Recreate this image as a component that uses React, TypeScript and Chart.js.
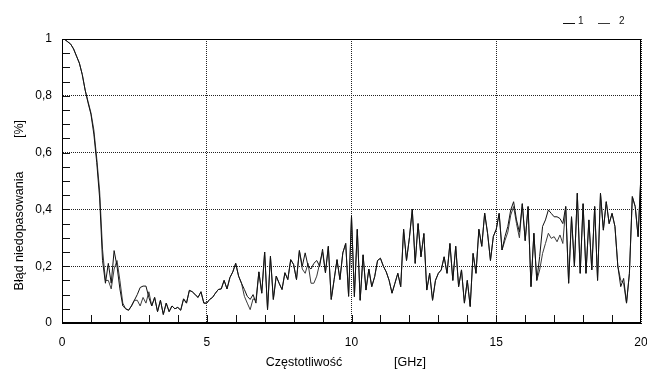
import React, { useEffect, useRef } from 'react';
import { Chart, registerables } from 'chart.js';

Chart.register(...registerables);

// Frequency grid [GHz]
const freqs = [
  0, 0.1, 0.2, 0.3, 0.4, 0.5, 0.6, 0.7, 0.8, 0.9,
  1, 1.1, 1.2, 1.3, 1.4, 1.5, 1.6, 1.7, 1.8, 1.9,
  2, 2.1, 2.2, 2.3, 2.4, 2.5, 2.6, 2.7, 2.8, 2.9,
  3, 3.1, 3.2, 3.3, 3.4, 3.5, 3.6, 3.7, 3.8, 3.9,
  4, 4.1, 4.2, 4.3, 4.4, 4.5, 4.6, 4.7, 4.8, 4.9,
  5, 5.1, 5.2, 5.3, 5.4, 5.5, 5.6, 5.7, 5.8, 5.9,
  6, 6.1, 6.2, 6.3, 6.4, 6.5, 6.6, 6.7, 6.8, 6.9,
  7, 7.1, 7.2, 7.3, 7.4, 7.5, 7.6, 7.7, 7.8, 7.9,
  8, 8.1, 8.2, 8.3, 8.4, 8.5, 8.6, 8.7, 8.8, 8.9,
  9, 9.1, 9.2, 9.3, 9.4, 9.5, 9.6, 9.7, 9.8, 9.9,
  10, 10.1, 10.2, 10.3, 10.4, 10.5, 10.6, 10.7, 10.8, 10.9,
  11, 11.1, 11.2, 11.3, 11.4, 11.5, 11.6, 11.7, 11.8, 11.9,
  12, 12.1, 12.2, 12.3, 12.4, 12.5, 12.6, 12.7, 12.8, 12.9,
  13, 13.1, 13.2, 13.3, 13.4, 13.5, 13.6, 13.7, 13.8, 13.9,
  14, 14.1, 14.2, 14.3, 14.4, 14.5, 14.6, 14.7, 14.8, 14.9,
  15, 15.1, 15.2, 15.3, 15.4, 15.5, 15.6, 15.7, 15.8, 15.9,
  16, 16.1, 16.2, 16.3, 16.4, 16.5, 16.6, 16.7, 16.8, 16.9,
  17, 17.1, 17.2, 17.3, 17.4, 17.5, 17.6, 17.7, 17.8, 17.9,
  18, 18.1, 18.2, 18.3, 18.4, 18.5, 18.6, 18.7, 18.8, 18.9,
  19, 19.1, 19.2, 19.3, 19.4, 19.5, 19.6, 19.7, 19.8, 19.9,
  20,
];

// Series 1
const series1 = [
  1.0, 0.998, 0.99, 0.982, 0.965, 0.94, 0.915, 0.875, 0.82, 0.775,
  0.735, 0.665, 0.565, 0.44, 0.22, 0.14, 0.21, 0.14, 0.255, 0.2,
  0.12, 0.06, 0.05, 0.045, 0.06, 0.08, 0.1, 0.125, 0.13, 0.13,
  0.09, 0.06, 0.09, 0.04, 0.08, 0.03, 0.07, 0.04, 0.06, 0.05,
  0.055, 0.045, 0.085, 0.07, 0.115, 0.11, 0.1, 0.09, 0.11, 0.07,
  0.07, 0.083, 0.09, 0.105, 0.118, 0.12, 0.15, 0.12, 0.16, 0.18,
  0.21, 0.165, 0.14, 0.118, 0.094, 0.083, 0.1, 0.07, 0.18, 0.105,
  0.25, 0.047, 0.235, 0.083, 0.165, 0.14, 0.118, 0.177, 0.153, 0.223,
  0.206, 0.153, 0.255, 0.2, 0.247, 0.2, 0.19, 0.21, 0.22, 0.2,
  0.26, 0.177, 0.27, 0.083, 0.153, 0.223, 0.153, 0.247, 0.28, 0.094,
  0.376, 0.093, 0.33, 0.08, 0.24, 0.116, 0.19, 0.128, 0.163, 0.22,
  0.228, 0.2, 0.18, 0.15, 0.105, 0.14, 0.175, 0.128, 0.33, 0.22,
  0.3, 0.4, 0.21, 0.35, 0.233, 0.315, 0.116, 0.175, 0.08, 0.15,
  0.175, 0.187, 0.233, 0.175, 0.28, 0.15, 0.27, 0.128, 0.187, 0.07,
  0.15, 0.058, 0.245, 0.175, 0.33, 0.27, 0.387, 0.316, 0.22, 0.305,
  0.33, 0.386, 0.257, 0.304, 0.34, 0.398, 0.427, 0.363, 0.32, 0.42,
  0.29, 0.41, 0.128, 0.316, 0.15, 0.234, 0.34, 0.363, 0.398, 0.386,
  0.374, 0.374, 0.368, 0.35, 0.41, 0.14, 0.374, 0.2, 0.457, 0.175,
  0.42, 0.175, 0.363, 0.187, 0.41, 0.15, 0.457, 0.327, 0.427, 0.35,
  0.386, 0.34, 0.2, 0.128, 0.157, 0.07, 0.175, 0.445, 0.41, 0.304,
  0.527,
];

// Series 2
const series2 = [
  1.0, 0.998, 0.99, 0.982, 0.965, 0.94, 0.915, 0.875, 0.82, 0.78,
  0.74, 0.68, 0.58, 0.465, 0.26, 0.15, 0.15, 0.12, 0.19, 0.22,
  0.15, 0.07, 0.05, 0.045, 0.06, 0.08, 0.08, 0.06, 0.09, 0.07,
  0.11, 0.06, 0.09, 0.04, 0.08, 0.03, 0.07, 0.04, 0.06, 0.05,
  0.055, 0.045, 0.085, 0.07, 0.115, 0.11, 0.1, 0.09, 0.11, 0.07,
  0.07, 0.083, 0.09, 0.105, 0.118, 0.12, 0.15, 0.12, 0.16, 0.18,
  0.21, 0.165, 0.14, 0.094, 0.07, 0.047, 0.085, 0.08, 0.18, 0.105,
  0.25, 0.047, 0.235, 0.083, 0.165, 0.14, 0.118, 0.177, 0.153, 0.223,
  0.206, 0.153, 0.255, 0.19, 0.175, 0.21, 0.14, 0.14, 0.165, 0.21,
  0.25, 0.177, 0.27, 0.083, 0.153, 0.223, 0.153, 0.247, 0.28, 0.094,
  0.376, 0.093, 0.33, 0.08, 0.24, 0.116, 0.19, 0.128, 0.163, 0.22,
  0.228, 0.2, 0.18, 0.15, 0.105, 0.14, 0.175, 0.128, 0.33, 0.22,
  0.3, 0.4, 0.21, 0.35, 0.233, 0.315, 0.116, 0.175, 0.08, 0.15,
  0.175, 0.187, 0.233, 0.175, 0.28, 0.15, 0.27, 0.128, 0.187, 0.07,
  0.15, 0.058, 0.245, 0.175, 0.33, 0.27, 0.387, 0.316, 0.22, 0.305,
  0.33, 0.386, 0.257, 0.29, 0.32, 0.38, 0.41, 0.35, 0.3, 0.42,
  0.29, 0.41, 0.128, 0.316, 0.15, 0.187, 0.245, 0.28, 0.316, 0.298,
  0.304, 0.286, 0.31, 0.28, 0.41, 0.14, 0.374, 0.2, 0.457, 0.175,
  0.42, 0.175, 0.363, 0.187, 0.41, 0.15, 0.457, 0.327, 0.427, 0.35,
  0.386, 0.34, 0.2, 0.15, 0.14, 0.07, 0.175, 0.445, 0.41, 0.304,
  0.527,
];

const seriesLabels = ['1', '2'];
const seriesColors = ['#111111', '#3a3a3a'];
const yTitleMain = 'Błąd niedopasowania';
const yTitleUnit = '[%]';
const xTitleMain = 'Częstotliwość';
const xTitleUnit = '[GHz]';

const X_MIN = 0, X_MAX = 20, X_MAJOR = 5, X_MINOR = 1;
const Y_MIN = 0, Y_MAX = 1, Y_MAJOR = 0.2, Y_MINOR = 0.05;

const FONT = '"Liberation Sans", Arial, sans-serif';

const decorPlugin = {
  id: 'decor',
  afterDraw(chart: any) {
    const { ctx, chartArea: a, scales } = chart;
    const xs = scales.x, ys = scales.y;
    ctx.save();
    ctx.strokeStyle = '#111';
    ctx.lineWidth = 1;
    ctx.setLineDash([]);
    ctx.beginPath();
    const nY = Math.round((Y_MAX - Y_MIN) / Y_MINOR);
    for (let i = 1; i < nY; i++) {
      const v = Y_MIN + i * Y_MINOR;
      const py = Math.round(ys.getPixelForValue(v)) + 0.5;
      ctx.moveTo(a.left, py);
      ctx.lineTo(a.left + 8, py);
    }
    const nX = Math.round((X_MAX - X_MIN) / X_MINOR);
    for (let i = 1; i < nX; i++) {
      const f = X_MIN + i * X_MINOR;
      const px = Math.round(xs.getPixelForValue(f)) + 0.5;
      ctx.moveTo(px, a.bottom);
      ctx.lineTo(px, a.bottom - 8);
    }
    ctx.stroke();
    ctx.strokeStyle = '#000';
    ctx.strokeRect(a.left + 0.5, a.top + 0.5, a.right - a.left - 1, a.bottom - a.top - 1);

    ctx.fillStyle = '#000';
    ctx.font = `12.5px ${FONT}`;
    ctx.textBaseline = 'middle';
    ctx.textAlign = 'center';
    ctx.fillText(xTitleMain, 304, 363);
    ctx.fillText(xTitleUnit, 410, 363);
    ctx.save();
    ctx.translate(20, 231);
    ctx.rotate(-Math.PI / 2);
    ctx.fillText(yTitleMain, 0, 0);
    ctx.restore();
    ctx.save();
    ctx.translate(20, 129);
    ctx.rotate(-Math.PI / 2);
    ctx.fillText(yTitleUnit, 0, 0);
    ctx.restore();

    ctx.font = `10px ${FONT}`;
    ctx.textAlign = 'left';
    const legendX = [563, 598];
    chart.data.datasets.forEach((ds: any, i: number) => {
      const x0 = legendX[i];
      ctx.strokeStyle = ds.borderColor;
      ctx.beginPath();
      ctx.moveTo(x0, 23.5);
      ctx.lineTo(x0 + 12, 23.5);
      ctx.stroke();
      ctx.fillStyle = '#111';
      ctx.fillText(ds.label, x0 + 15 + (i === 1 ? 6 : 0), 21);
    });
    ctx.restore();
  },
};

export default function App() {
  const ref = useRef<HTMLCanvasElement>(null);
  useEffect(() => {
    document.body.style.margin = '0';
    const canvas = ref.current!;
    const chart = new Chart(canvas, {
      type: 'line',
      data: {
        datasets: [series1, series2].map((s, k) => ({
          label: seriesLabels[k],
          data: freqs.map((f, i) => ({ x: f, y: s[i] })),
          borderColor: seriesColors[k],
          borderWidth: 1,
          pointRadius: 0,
          tension: 0,
          fill: false,
        })),
      },
      options: {
        animation: false,
        responsive: false,
        devicePixelRatio: 1,
        layout: { padding: { top: 39, right: 6, left: 0, bottom: 0 } },
        plugins: { legend: { display: false }, tooltip: { enabled: false } },
        scales: {
          x: {
            type: 'linear',
            min: X_MIN,
            max: X_MAX,
            afterFit: (s: any) => { s.height = 49; s.paddingLeft = 0; s.paddingRight = 0; },
            ticks: {
              stepSize: X_MAJOR,
              padding: 12,
              color: '#000',
              font: { family: FONT, size: 12 },
              maxRotation: 0,
            },
            grid: { color: '#222', lineWidth: 1, drawTicks: false },
            border: { display: true, color: '#000', dash: [1, 1] },
          },
          y: {
            type: 'linear',
            min: Y_MIN,
            max: Y_MAX,
            afterFit: (s: any) => { s.width = 62; s.paddingTop = 0; s.paddingBottom = 0; },
            ticks: {
              stepSize: Y_MAJOR,
              padding: 10,
              color: '#000',
              font: { family: FONT, size: 12 },
              callback: (v: any) => {
                const n = Number(v);
                if (Math.abs(n - Math.round(n)) < 1e-9) return String(Math.round(n));
                return n.toFixed(1).replace('.', ',');
              },
            },
            grid: { color: '#222', lineWidth: 1, drawTicks: false },
            border: { display: true, color: '#000', dash: [1, 1] },
          },
        },
      },
      plugins: [decorPlugin],
    });
    return () => chart.destroy();
  }, []);
  return (
    <div style={{ width: 647, height: 372, background: '#fff' }}>
      <canvas ref={ref} width={647} height={372} />
    </div>
  );
}
